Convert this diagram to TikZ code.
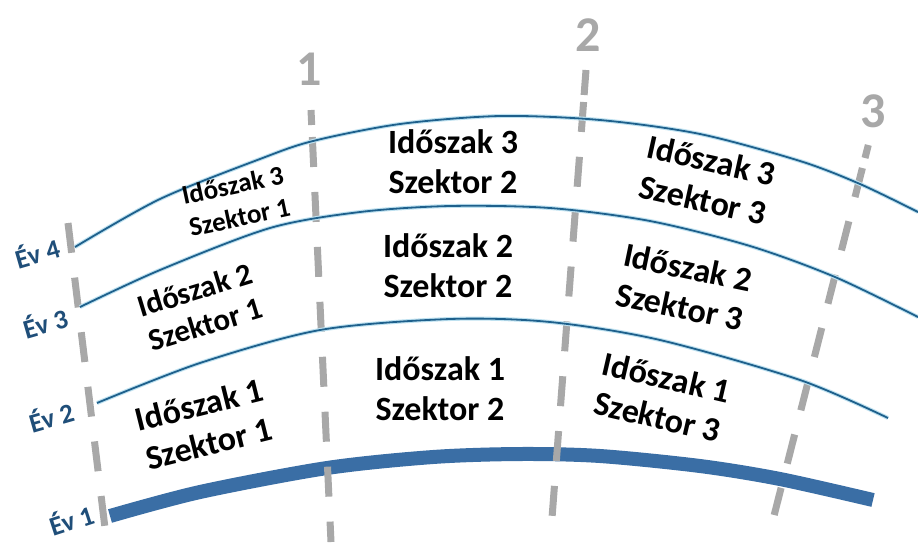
\documentclass[tikz,border=0pt]{standalone}
\usepackage{fontspec}
\setmainfont{Carlito}
\definecolor{thinblue}{RGB}{30,96,140}
\definecolor{glowblue}{RGB}{190,225,240}
\definecolor{thickblue}{RGB}{58,110,165}
\definecolor{dashgrey}{RGB}{168,168,168}
\definecolor{labelblue}{RGB}{31,78,121}
\tikzset{
  divider/.style={draw=dashgrey, line width=7pt, dash pattern=on 30pt off 25pt},
  dividerpiece/.style={draw=dashgrey, line width=7pt},
  yearglow/.style={draw=glowblue, line width=4pt},
  yearline/.style={draw=thinblue, line width=1.8pt},
  basecurve/.style={draw=thickblue, line width=14pt},
  cell/.style={font=\bfseries\fontsize{34}{40}\selectfont, align=center, inner sep=0pt},
  smallcell/.style={font=\bfseries\fontsize{27}{33}\selectfont, align=center, inner sep=0pt},
  midcell/.style={font=\bfseries\fontsize{31}{36}\selectfont, align=center, inner sep=0pt},
  yearlabel/.style={font=\bfseries\fontsize{27}{30}\selectfont, text=labelblue, inner sep=0pt},
  numlabel/.style={font=\bfseries\fontsize{50}{56}\selectfont, text=dashgrey, inner sep=0pt}
}
\begin{document}
\begin{tikzpicture}[x=1pt, y=-1pt]
\useasboundingbox (0,0) rectangle (918,542);
\fill[white] (0,0) rectangle (918,542);

% thick base curve (Ev 1)
\draw[basecurve] plot[smooth] coordinates {(110,516) (200,492) (327,468) (433,457) (520,454) (600,456) (700,466) (780,479) (873,500)};

% dashed dividers
\coordinate (d0a) at (68,223);   \coordinate (d0b) at (105,528);
\coordinate (d1t) at (311,110);  \coordinate (d1u) at (311.7,125);
\coordinate (d1a) at (312.3,137); \coordinate (d1b) at (331,542);
\coordinate (d2t) at (586,70);   \coordinate (d2u) at (584.1,95);
\coordinate (d2a) at (583.6,102); \coordinate (d2b) at (552,518);
\coordinate (d3t) at (868.3,145); \coordinate (d3u) at (865,158);
\coordinate (d3a) at (862.4,168); \coordinate (d3b) at (774.2,515);
\draw[divider] (d0a) -- (d0b);
\draw[dividerpiece] (d1t) -- (d1u);
\draw[divider] (d1a) -- (d1b);
\draw[dividerpiece] (d2t) -- (d2u);
\draw[divider] (d2a) -- (d2b);
\draw[dividerpiece] (d3t) -- (d3u);
\draw[divider] (d3a) -- (d3b);

% thin year curves
\foreach \c in {
  {(97,403) (200,363) (320,330) (450,319) (550,322) (660,340) (800,380) (888,418)},
  {(80,307) (160,270) (270,228) (360,212) (450,206) (550,208) (650,221) (750,246) (835,277) (918,317)},
  {(75,247) (160,199) (260,159) (313,141) (400,124) (500,116) (600,120) (700,134) (800,161) (860,184) (918,212)}}
{
  \draw[yearglow] plot[smooth] coordinates \c;
  \draw[yearline] plot[smooth] coordinates \c;
}

% number labels
\node[numlabel] (n1) at (309,69) {1};
\node[numlabel] (n2) at (588,35) {2};
\node[numlabel] (n3) at (873,111) {3};

% year labels
\node[yearlabel, rotate=16] (e4) at (37,252) {Év 4};
\node[yearlabel, rotate=16] (e3) at (45,322) {Év 3};
\node[yearlabel, rotate=16] (e2) at (51,416) {Év 2};
\node[yearlabel, rotate=18] (e1) at (71,519) {Év 1};

% cells
\node[smallcell, rotate=12] (c31) at (236,201) {Időszak 3\\Szektor 1};
\node[midcell, rotate=17] (c21) at (200,307) {Időszak 2\\Szektor 1};
\node[cell, rotate=14] (c11) at (204,424) {Időszak 1\\Szektor 1};
\node[cell] (c32) at (453,162) {Időszak 3\\Szektor 2};
\node[cell] (c22) at (448,266) {Időszak 2\\Szektor 2};
\node[cell] (c12) at (440,389) {Időszak 1\\Szektor 2};
\node[cell, rotate=-12.5] (c33) at (707,180) {Időszak 3\\Szektor 3};
\node[cell, rotate=-11.7] (c23) at (684,287) {Időszak 2\\Szektor 3};
\node[cell, rotate=-13] (c13) at (662,397) {Időszak 1\\Szektor 3};
\end{tikzpicture}
\end{document}
